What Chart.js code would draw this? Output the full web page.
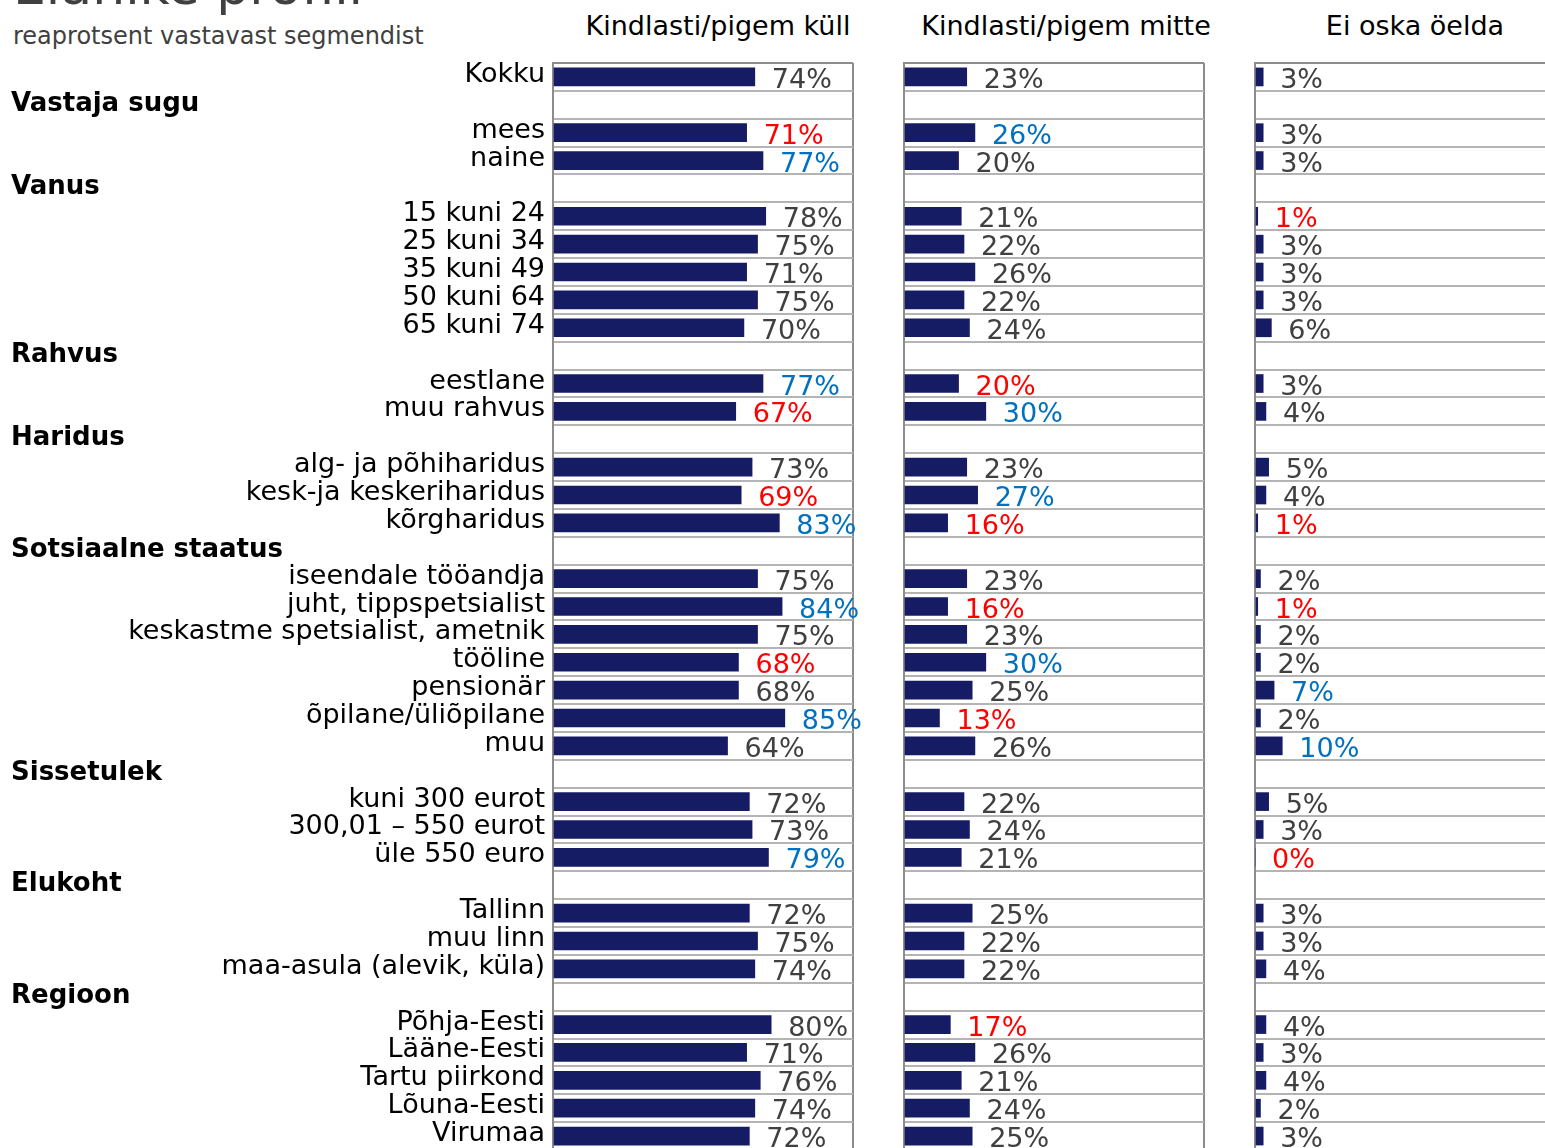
<!DOCTYPE html>
<html>
<head>
<meta charset="utf-8">
<script src="https://cdn.jsdelivr.net/npm/chart.js@4/dist/chart.umd.min.js"></script>
<style>
  body { margin: 0; width: 1545px; height: 1148px; overflow: hidden; background: #fff; position: relative; font-family: "DejaVu Sans", sans-serif; }
  canvas { position: absolute; top: 0; }
  .txt { position: absolute; white-space: nowrap; line-height: 1; }
  #title { left: 13px; top: -40px; font-size: 52px; color: #404040; }
  #sub { left: 13px; top: 24px; font-size: 24px; color: #404040; }
  .colhead { top: 12px; font-size: 27px; color: #000; transform: translateX(-50%); }
</style>
</head>
<body>
<div class="txt" id="title">Elanike profiil</div>
<div class="txt" id="sub">reaprotsent vastavast segmendist</div>
<div class="txt colhead" style="left:718px">Kindlasti/pigem küll</div>
<div class="txt colhead" style="left:1066px">Kindlasti/pigem mitte</div>
<div class="txt colhead" style="left:1415px">Ei oska öelda</div>

<canvas id="c1" width="900" height="1200" style="left:0"></canvas>
<canvas id="c2" width="400" height="1200" style="left:860px"></canvas>
<canvas id="c3" width="400" height="1200" style="left:1211px"></canvas>

<script>
// rows of the table, group headings are empty rows
const rows = ['Kokku', 'Vastaja sugu', 'mees', 'naine', 'Vanus', '15 kuni 24', '25 kuni 34', '35 kuni 49',
  '50 kuni 64', '65 kuni 74', 'Rahvus', 'eestlane', 'muu rahvus', 'Haridus', 'alg- ja põhiharidus',
  'kesk-ja keskeriharidus', 'kõrgharidus', 'Sotsiaalne staatus', 'iseendale tööandja', 'juht, tippspetsialist',
  'keskastme spetsialist, ametnik', 'tööline', 'pensionär', 'õpilane/üliõpilane', 'muu', 'Sissetulek',
  'kuni 300 eurot', '300,01 – 550 eurot', 'üle 550 euro', 'Elukoht', 'Tallinn', 'muu linn',
  'maa-asula (alevik, küla)', 'Regioon', 'Põhja-Eesti', 'Lääne-Eesti', 'Tartu piirkond', 'Lõuna-Eesti', 'Virumaa'];
const groupRows = ['Vastaja sugu', 'Vanus', 'Rahvus', 'Haridus', 'Sotsiaalne staatus', 'Sissetulek', 'Elukoht', 'Regioon'];

const kull = [74, null, 71, 77, null, 78, 75, 71, 75, 70, null, 77, 67, null, 73, 69, 83, null,
  75, 84, 75, 68, 68, 85, 64, null, 72, 73, 79, null, 72, 75, 74, null, 80, 71, 76, 74, 72];
const mitte = [23, null, 26, 20, null, 21, 22, 26, 22, 24, null, 20, 30, null, 23, 27, 16, null,
  23, 16, 23, 30, 25, 13, 26, null, 22, 24, 21, null, 25, 22, 22, null, 17, 26, 21, 24, 25];
const eiOska = [3, null, 3, 3, null, 1, 3, 3, 3, 6, null, 3, 4, null, 5, 4, 1, null,
  2, 1, 2, 2, 7, 2, 10, null, 5, 3, 0, null, 3, 3, 4, null, 4, 3, 4, 2, 3];

// 1 = significantly higher (blue), -1 = lower (red)
const kullSig = [0, 0, -1, 1, 0, 0, 0, 0, 0, 0, 0, 1, -1, 0, 0, -1, 1, 0,
  0, 1, 0, -1, 0, 1, 0, 0, 0, 0, 1, 0, 0, 0, 0, 0, 0, 0, 0, 0, 0];
const mitteSig = [0, 0, 1, 0, 0, 0, 0, 0, 0, 0, 0, -1, 1, 0, 0, 1, -1, 0,
  0, -1, 0, 1, 0, -1, 0, 0, 0, 0, 0, 0, 0, 0, 0, 0, -1, 0, 0, 0, 0];
const eiSig = [0, 0, 0, 0, 0, -1, 0, 0, 0, 0, 0, 0, 0, 0, 0, 0, -1, 0,
  0, -1, 0, 0, 1, 0, 1, 0, 0, 0, -1, 0, 0, 0, 0, 0, 0, 0, 0, 0, 0];

Chart.defaults.font.family = '"DejaVu Sans", sans-serif';

const sigColor = { '0': '#404040', '1': '#0070c0', '-1': '#ff0000' };

// writes the % value after each bar
const valueLabels = {
  id: 'valueLabels',
  afterDatasetsDraw(chart, args, opts) {
    const ctx = chart.ctx;
    const meta = chart.getDatasetMeta(0);
    ctx.save();
    ctx.font = '27px "DejaVu Sans"';
    ctx.textAlign = 'left';
    ctx.textBaseline = 'alphabetic';
    meta.data.forEach((bar, i) => {
      const v = chart.data.datasets[0].data[i];
      if (v === null) return;
      ctx.fillStyle = sigColor[opts.sig[i]];
      ctx.fillText(v + '%', bar.x + 17, bar.y + 11);
    });
    ctx.restore();
  }
};

// bold group headings at the left edge
const groupHeads = {
  id: 'groupHeads',
  afterDraw(chart) {
    const ctx = chart.ctx;
    const y = chart.scales.y;
    ctx.save();
    ctx.font = 'bold 26px "DejaVu Sans"';
    ctx.fillStyle = '#000';
    ctx.textAlign = 'left';
    rows.forEach((r, i) => {
      if (groupRows.includes(r)) ctx.fillText(r, 11, y.getPixelForValue(i) + 6);
    });
    ctx.restore();
  }
};

function makePanel(id, values, sig, yWidth, pad, showLabels) {
  const plugins = [valueLabels];
  if (showLabels) plugins.push(groupHeads);
  return new Chart(document.getElementById(id), {
    type: 'bar',
    data: {
      labels: rows,
      datasets: [{
        data: values,
        backgroundColor: '#161c64',
        barThickness: 18
      }]
    },
    options: {
      indexAxis: 'y',
      responsive: false,
      animation: false,
      layout: { padding: pad },
      plugins: {
        legend: { display: false },
        tooltip: { enabled: false },
        valueLabels: { sig: sig }
      },
      scales: {
        x: {
          min: 0,
          max: 110,
          ticks: { display: false, stepSize: 110 },
          grid: { color: '#8c8c8c', lineWidth: 2, drawTicks: false },
          border: { display: false },
          afterFit: s => { s.height = 0; }
        },
        y: {
          ticks: {
            display: showLabels,
            autoSkip: false,
            color: '#000',
            font: { size: 27 },
            padding: 8,
            labelOffset: -2,
            callback: (v, i) => groupRows.includes(rows[i]) ? '' : rows[i]
          },
          grid: {
            color: ctx => ctx.index === 0 ? '#8c8c8c' : '#b4b4b4',
            lineWidth: 2,
            drawTicks: false
          },
          border: { color: '#8c8c8c', width: 2 },
          afterFit: s => { s.width = yWidth; }
        }
      }
    },
    plugins: plugins
  });
}

makePanel('c1', kull, kullSig, 553, { top: 63, right: 47, bottom: 50, left: 0 }, true);
makePanel('c2', mitte, mitteSig, 0, { top: 63, right: 56, bottom: 50, left: 44 }, false);
makePanel('c3', eiOska, eiSig, 0, { top: 63, right: 56, bottom: 50, left: 44 }, false);
</script>
</body>
</html>
